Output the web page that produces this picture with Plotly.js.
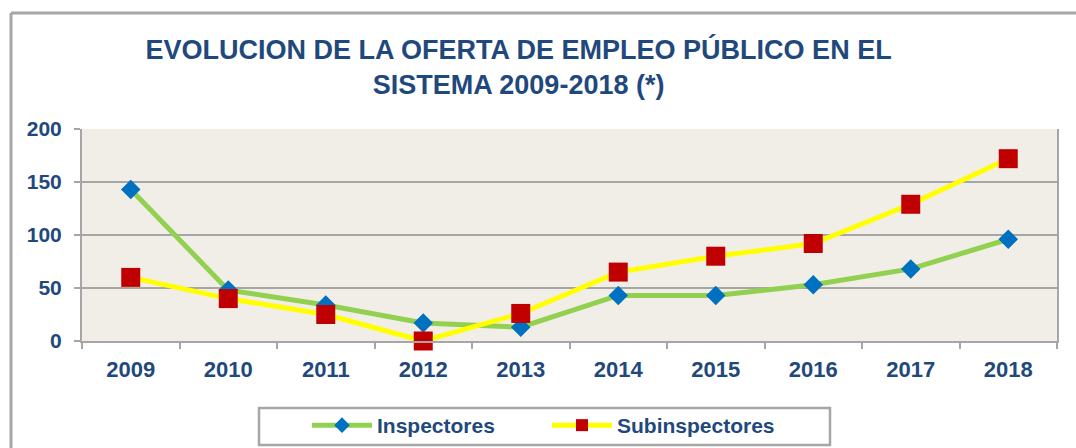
<!DOCTYPE html>
<html>
<head>
<meta charset="utf-8">
<script src="https://cdn.plot.ly/plotly-3.0.1.min.js"></script>
<style>
html,body{margin:0;padding:0;background:#fff;}
#chart{width:1076px;height:448px;}
</style>
</head>
<body>
<div id="chart"></div>
<script>
const years = ['2009','2010','2011','2012','2013','2014','2015','2016','2017','2018'];
const inspectores = [143, 48, 34, 17, 13, 43, 43, 53, 68, 96];
const subinspectores = [60, 40, 25, 0, 26, 65, 80, 92, 129, 172];
const yTicks = [0, 50, 100, 150, 200];

const textColor = '#1f497d';
const gray = '#a6a6a6';
const font = 'Liberation Sans, Arial, sans-serif';

const traces = [
  {
    x: years, y: inspectores, name: 'Inspectores', type: 'scatter', mode: 'lines+markers',
    line: {color: '#92d050', width: 5},
    marker: {symbol: 'diamond', size: 15, color: '#0070c0'},
    cliponaxis: false
  },
  {
    x: years, y: subinspectores, name: 'Subinspectores', type: 'scatter', mode: 'lines+markers',
    line: {color: '#ffff00', width: 5},
    marker: {symbol: 'square', size: 19, color: '#c00000'},
    cliponaxis: false
  }
];

// plot area: x 82..1057, y 129..341 (px)
const W = 975, H = 212, L = 82, T = 129;
const px = v => (v - L) / W;
const py = v => (T + H - v) / H;

const layout = {
  width: 1076, height: 448,
  margin: {l: 82, r: 19, t: 129, b: 107, autoexpand: false},
  paper_bgcolor: '#ffffff',
  plot_bgcolor: '#f1eee7',
  font: {family: font, color: textColor},
  title: {
    text: '<b>EVOLUCION DE LA OFERTA DE EMPLEO PÚBLICO EN EL<br>SISTEMA 2009-2018 (*)</b>',
    font: {family: font, size: 27, color: textColor},
    x: 0.482, xref: 'container', xanchor: 'center',
    y: 1 - 59/448, yref: 'container', yanchor: 'top'
  },
  xaxis: {
    type: 'category', range: [-0.5, 9.5],
    showgrid: false, showline: true, linecolor: gray, linewidth: 2,
    ticks: 'outside', tickson: 'boundaries', ticklen: 6, tickcolor: gray, tickwidth: 2,
    tickfont: {family: font, size: 22, color: textColor, weight: 'bold'},
    ticklabelstandoff: 8,
    fixedrange: true
  },
  yaxis: {
    range: [0, 200], tickvals: yTicks,
    showgrid: true, gridcolor: gray, gridwidth: 2,
    showline: true, linecolor: gray, linewidth: 2, mirror: true,
    ticks: 'outside', ticklen: 6, tickcolor: gray, tickwidth: 2,
    tickfont: {family: font, size: 21, color: textColor, weight: 'bold'},
    zeroline: false, ticklabelstandoff: 8,
    fixedrange: true
  },
  showlegend: true,
  legend: {
    orientation: 'h', x: px(307), xanchor: 'left', y: py(405), yanchor: 'top',
    bgcolor: 'rgba(0,0,0,0)', borderwidth: 0,
    font: {family: font, size: 21, color: textColor, weight: 'bold'},
    itemwidth: 60, entrywidth: 165, itemsizing: 'constant'
  },
  shapes: [
    {type: 'line', xref: 'paper', yref: 'paper', x0: px(11), x1: px(1100), y0: py(13), y1: py(13),
     line: {color: gray, width: 3}, layer: 'below'},
    {type: 'line', xref: 'paper', yref: 'paper', x0: px(11), x1: px(11), y0: py(13), y1: py(460),
     line: {color: gray, width: 3}, layer: 'below'},
    {type: 'rect', xref: 'paper', yref: 'paper', x0: px(259), x1: px(830), y0: py(408), y1: py(445),
     line: {color: gray, width: 2.5}, fillcolor: '#ffffff', layer: 'below'}
  ]
};

Plotly.newPlot('chart', traces, layout, {displayModeBar: false, staticPlot: true});
</script>
</body>
</html>
